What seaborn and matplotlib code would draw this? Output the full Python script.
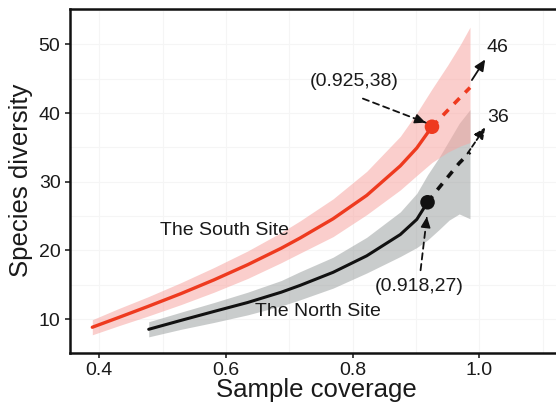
import matplotlib
matplotlib.use("Agg")
import matplotlib.pyplot as plt
import seaborn as sns
import pandas as pd
import numpy as np

# ---- data ----
south_cov = [0.389, 0.430, 0.476, 0.529, 0.581, 0.634, 0.687, 0.717, 0.769, 0.822, 0.875, 0.901, 0.925]
south_div = [8.8, 10.2, 11.8, 13.7, 15.7, 17.9, 20.3, 21.8, 24.6, 28.0, 32.3, 34.9, 38.0]
south_lo = [7.7, 9.0, 10.4, 12.1, 13.9, 15.9, 18.2, 19.6, 22.0, 25.2, 28.8, 30.9, 32.8]
south_hi = [9.9, 11.5, 13.2, 15.3, 17.5, 19.9, 22.6, 24.3, 27.5, 31.5, 36.6, 40.0, 43.5]

south_ext_cov = [0.925, 0.950, 0.970, 0.985]
south_ext_div = [38.0, 40.4, 42.3, 43.7]
south_ext_lo = [32.8, 34.3, 35.2, 35.7]
south_ext_hi = [43.5, 47.0, 50.0, 52.5]

north_cov = [0.478, 0.529, 0.581, 0.634, 0.687, 0.717, 0.769, 0.822, 0.875, 0.901, 0.918]
north_div = [8.5, 9.8, 11.1, 12.4, 13.9, 14.9, 16.8, 19.2, 22.3, 24.5, 27.0]
north_lo = [7.4, 8.5, 9.5, 10.6, 11.9, 12.8, 14.5, 16.7, 19.1, 20.4, 21.5]
north_hi = [9.6, 11.0, 12.4, 13.9, 15.6, 16.9, 19.0, 21.9, 25.6, 28.3, 31.0]

north_ext_cov = [0.918, 0.936, 0.952, 0.968, 0.985]
north_ext_div = [27.0, 29.1, 30.9, 32.7, 34.3]
north_ext_lo = [21.5, 23.0, 24.4, 25.3, 24.6]
north_ext_hi = [31.0, 33.5, 36.0, 38.5, 40.5]

obs_cov = [0.925, 0.918]
obs_div = [38, 27]
obs_site = ["The South Site", "The North Site"]
extrap_labels = ["46", "36"]

x_ticks = [0.4, 0.6, 0.8, 1.0]
y_ticks = [10, 20, 30, 40, 50]

RED = "#EE3A1F"
BLACK = "#111111"
RED_FILL = "#F7A6A2"
GRAY_FILL = "#959A9A"

sns.set_theme(style="white")
plt.rcParams["font.family"] = ["Liberation Sans", "DejaVu Sans"]

fig = plt.figure(figsize=(5.56, 4.08), dpi=100)
ax = fig.add_axes([0.125, 0.136, 0.885, 0.843])

# bands
ax.fill_between(north_cov + north_ext_cov[1:], north_lo + north_ext_lo[1:],
                north_hi + north_ext_hi[1:], color=GRAY_FILL, alpha=0.5, lw=0, zorder=1)
ax.fill_between(south_cov + south_ext_cov[1:], south_lo + south_ext_lo[1:],
                south_hi + south_ext_hi[1:], color=RED_FILL, alpha=0.55, lw=0, zorder=1)

# lines
df_s = pd.DataFrame({"cov": south_cov, "div": south_div})
df_n = pd.DataFrame({"cov": north_cov, "div": north_div})
df_se = pd.DataFrame({"cov": south_ext_cov, "div": south_ext_div})
df_ne = pd.DataFrame({"cov": north_ext_cov, "div": north_ext_div})
sns.lineplot(data=df_s, x="cov", y="div", color=RED, lw=2.4, ax=ax, sort=False, zorder=3)
sns.lineplot(data=df_n, x="cov", y="div", color=BLACK, lw=2.2, ax=ax, sort=False, zorder=3)
sns.lineplot(data=df_se, x="cov", y="div", color=RED, lw=2.6, ax=ax, sort=False,
             linestyle=(0, (2.2, 2.2)), zorder=3)
sns.lineplot(data=df_ne, x="cov", y="div", color=BLACK, lw=2.6, ax=ax, sort=False,
             linestyle=(0, (2.2, 2.2)), zorder=3)

sns.scatterplot(x=obs_cov, y=obs_div, hue=obs_site, palette=[RED, BLACK], s=110,
                edgecolor="none", legend=False, ax=ax, zorder=4)

TXT = "#1a1a1a"
fs = 14

# annotations for observed points
def dashed_arrow(x0, y0, x1, y1):
    ax.annotate("", xy=(x1, y1), xytext=(x0, y0),
                arrowprops=dict(arrowstyle="-", lw=1.3, color=BLACK, linestyle=(0, (3.5, 2.5)),
                                shrinkA=0, shrinkB=0), zorder=5)
    dx, dy = x1 - x0, y1 - y0
    ax.annotate("", xy=(x1, y1), xytext=(x1 - dx * 0.02, y1 - dy * 0.02),
                arrowprops=dict(arrowstyle="-|>,head_length=0.55,head_width=0.25", lw=1.0,
                                color=BLACK, shrinkA=0, shrinkB=0), zorder=5)

ax.text(0.802, 44.55, f"({obs_cov[0]},{obs_div[0]})", ha="center", va="center", fontsize=fs, color=TXT)
dashed_arrow(0.816, 42.1, 0.915, 38.6)
ax.text(0.905, 14.7, f"({obs_cov[1]},{obs_div[1]})", ha="center", va="center", fontsize=fs, color=TXT)
dashed_arrow(0.907, 17.1, 0.917, 24.9)

# extrapolation end arrows
ax.annotate("", xy=(1.009, 47.8), xytext=(0.988, 44.8),
            arrowprops=dict(arrowstyle="-|>,head_length=0.55,head_width=0.25", lw=1.3,
                            color=BLACK, shrinkA=0, shrinkB=0), zorder=5)
ax.text(1.028, 49.5, extrap_labels[0], ha="center", va="center", fontsize=fs, color=TXT)
ax.annotate("", xy=(1.009, 37.9), xytext=(0.981, 34.1),
            arrowprops=dict(arrowstyle="-|>,head_length=0.55,head_width=0.25", lw=1.3,
                            color=BLACK, linestyle=(0, (3, 1.5)), shrinkA=0, shrinkB=0), zorder=5)
ax.text(1.030, 39.4, extrap_labels[1], ha="center", va="center", fontsize=fs, color=TXT)

ax.text(0.496, 22.96, obs_site[0], ha="left", va="center", fontsize=fs, color=TXT)
ax.text(0.646, 11.16, obs_site[1], ha="left", va="center", fontsize=fs, color=TXT)

# axes styling
ax.set_xlim(0.353, 1.1295)
ax.set_ylim(5.12, 55.21)
ax.set_xticks(x_ticks)
ax.set_xticklabels([f"{v:.1f}" for v in x_ticks])
ax.set_yticks(y_ticks)
ax.set_xticks(np.arange(0.5, 1.15, 0.2), minor=True)
ax.set_yticks([15, 25, 35, 45, 55], minor=True)
ax.grid(True, which="both", color="#f5f5f5", lw=0.8, zorder=0)
ax.set_axisbelow(True)

for side in ["left", "bottom", "top"]:
    ax.spines[side].set_color(BLACK)
    ax.spines[side].set_linewidth(1.8)
ax.spines["right"].set_visible(False)

ax.tick_params(axis="both", which="major", direction="out", length=3.5, width=1.1,
               color=BLACK, labelsize=14, labelcolor=TXT, pad=3, bottom=True, left=True)
ax.tick_params(axis="both", which="minor", length=0)

ax.set_xlabel("Sample coverage", fontsize=18.5, color=TXT)
ax.set_ylabel("Species diversity", fontsize=18.5, color=TXT)
ax.xaxis.set_label_coords(0.502, -0.074)
ax.yaxis.set_label_coords(-0.075, 0.5)

fig.savefig("out.png", dpi=100)
